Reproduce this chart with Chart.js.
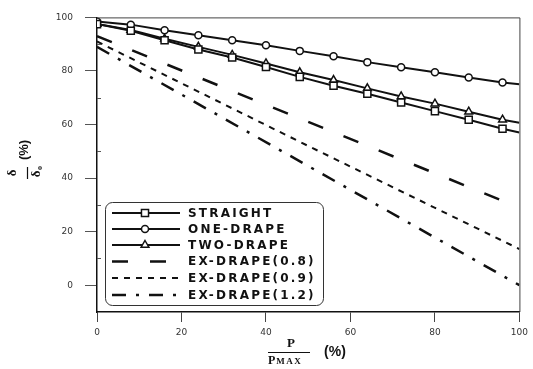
<!DOCTYPE html>
<html>
<head>
<meta charset="utf-8">
<script src="https://cdn.jsdelivr.net/npm/chart.js@4/dist/chart.umd.min.js"></script>
<style>
html,body{margin:0;padding:0;background:#fff;}
#wrap{width:533px;height:369px;}
</style>
</head>
<body>
<div id="wrap"><canvas id="c" width="533" height="369"></canvas></div>
<script>
const xTicks = [0, 20, 40, 60, 80, 100];
const yTicks = [0, 20, 40, 60, 80, 100];
const xSolid = [0, 8, 16, 24, 32, 40, 48, 56, 64, 72, 80, 88, 96, 100];
const straight = [97.5, 95, 91.5, 88, 85, 81.5, 77.8, 74.5, 71.5, 68.2, 65, 61.8, 58.4, 57];
const oneDrape = [98.5, 97.3, 95.2, 93.3, 91.5, 89.6, 87.5, 85.5, 83.3, 81.4, 79.5, 77.6, 75.7, 75];
const twoDrape = [97.5, 95.3, 92, 89, 86, 82.8, 79.5, 76.6, 73.5, 70.5, 67.8, 64.8, 61.8, 60.7];
const xEx = [0, 50, 100];
const ex08 = [93, 61, 29];
const ex09 = [91, 52, 13.5];
const ex12 = [89, 44.5, 0];
const labels = ['STRAIGHT', 'ONE-DRAPE', 'TWO-DRAPE', 'EX-DRAPE(0.8)', 'EX-DRAPE(0.9)', 'EX-DRAPE(1.2)'];

const pts = (xs, ys) => xs.map((x, i) => ({x: x, y: ys[i]}));
const radii = (xs, r) => xs.map((x, i) => i === xs.length - 1 ? 0 : r);

function solid(label, xs, ys, style, r) {
  return {
    label: label, data: pts(xs, ys), borderColor: '#111', borderWidth: 2,
    pointStyle: style, pointRadius: radii(xs, r), pointBorderWidth: 1.5,
    pointBackgroundColor: '#fff', pointBorderColor: '#111', tension: 0, fill: false
  };
}
function dashed(label, xs, ys, dash, w) {
  return {
    label: label, data: pts(xs, ys), borderColor: '#111', borderWidth: w,
    borderDash: dash, pointRadius: 0, tension: 0, fill: false
  };
}

const datasets = [
  solid(labels[0], xSolid, straight, 'rect', 5),
  solid(labels[1], xSolid, oneDrape, 'circle', 3.5),
  solid(labels[2], xSolid, twoDrape, 'triangle', 4.5),
  dashed(labels[3], xEx, ex08, [16, 22], 2.5),
  dashed(labels[4], xEx, ex09, [6, 6], 2),
  dashed(labels[5], xEx, ex12, [14, 10, 3, 10], 2.5)
];

function marker(ctx, style, x, y, r) {
  ctx.save();
  ctx.beginPath();
  if (style === 'rect') {
    const s = Math.SQRT1_2 * r;
    ctx.rect(x - s, y - s, 2 * s, 2 * s);
  } else if (style === 'circle') {
    ctx.arc(x, y, r, 0, Math.PI * 2);
  } else if (style === 'triangle') {
    ctx.moveTo(x, y - r);
    ctx.lineTo(x + r * 0.866, y + r * 0.5);
    ctx.lineTo(x - r * 0.866, y + r * 0.5);
    ctx.closePath();
  }
  ctx.fillStyle = '#fff';
  ctx.fill();
  ctx.lineWidth = 1.5;
  ctx.strokeStyle = '#111';
  ctx.setLineDash([]);
  ctx.stroke();
  ctx.restore();
}

const deco = {
  id: 'deco',
  afterDatasetsDraw(chart) {
    const ctx = chart.ctx;
    const a = chart.chartArea;
    ctx.save();
    ctx.strokeStyle = '#444';
    ctx.lineWidth = 1;
    ctx.beginPath();
    ctx.moveTo(a.left, a.top + 0.5);
    ctx.lineTo(a.right + 0.5, a.top + 0.5);
    ctx.lineTo(a.right + 0.5, a.bottom);
    ctx.stroke();
    const ys = chart.scales.y;
    ctx.strokeStyle = '#555';
    [10, 30, 50, 70, 90].forEach(v => {
      const py = Math.round(ys.getPixelForValue(v)) + 0.5;
      ctx.beginPath();
      ctx.moveTo(a.left, py);
      ctx.lineTo(a.left + 4, py);
      ctx.stroke();
    });

    // legend
    const bx = 105, by = 202, bw = 218, bh = 103;
    ctx.fillStyle = '#fff';
    ctx.strokeStyle = '#333';
    ctx.lineWidth = 1;
    ctx.beginPath();
    ctx.roundRect(bx + 0.5, by + 0.5, bw, bh, 7);
    ctx.fill();
    ctx.stroke();
    const rows = [213, 229, 245, 261.5, 278, 295];
    chart.data.datasets.forEach((ds, i) => {
      const y = rows[i];
      ctx.save();
      ctx.strokeStyle = '#111';
      ctx.lineWidth = ds.borderWidth;
      ctx.setLineDash(ds.borderDash || []);
      ctx.beginPath();
      ctx.moveTo(112, y);
      ctx.lineTo(180, y);
      ctx.stroke();
      ctx.restore();
      if (ds.pointStyle && i < 3) {
        const r = Array.isArray(ds.pointRadius) ? ds.pointRadius[0] : ds.pointRadius;
        marker(ctx, ds.pointStyle, 145, y, r);
      }
      ctx.save();
      ctx.fillStyle = '#111';
      ctx.font = 'bold 12px "DejaVu Sans", sans-serif';
      ctx.letterSpacing = '2.2px';
      ctx.textBaseline = 'middle';
      ctx.textAlign = 'left';
      ctx.fillText(ds.label, 188, y + 0.5);
      ctx.restore();
    });

    // x-axis title
    ctx.fillStyle = '#111';
    ctx.textBaseline = 'middle';
    ctx.textAlign = 'center';
    ctx.font = 'bold 13px "Liberation Serif", serif';
    ctx.fillText('P', 291, 344);
    ctx.strokeStyle = '#111';
    ctx.lineWidth = 1.2;
    ctx.beginPath();
    ctx.moveTo(268, 352.5);
    ctx.lineTo(310, 352.5);
    ctx.stroke();
    ctx.textAlign = 'left';
    ctx.font = 'bold 12px "Liberation Serif", serif';
    ctx.fillText('P', 268, 361);
    const pw = ctx.measureText('P').width;
    ctx.font = 'bold 9px "Liberation Serif", serif';
    ctx.letterSpacing = '1.5px';
    ctx.fillText('MAX', 268 + pw + 1, 361.5);
    ctx.letterSpacing = '0px';
    ctx.font = 'bold 14px "Liberation Sans", Arial, sans-serif';
    ctx.textAlign = 'center';
    ctx.fillText('(%)', 335, 352);

    // y-axis title rotated
    ctx.save();
    ctx.translate(27, 173);
    ctx.rotate(-Math.PI / 2);
    ctx.lineWidth = 1.2;
    ctx.beginPath();
    ctx.moveTo(-6, 0.5);
    ctx.lineTo(6, 0.5);
    ctx.stroke();
    ctx.textAlign = 'center';
    ctx.textBaseline = 'middle';
    ctx.font = 'bold 13px "Liberation Serif", serif';
    ctx.fillText('δ', 0, -14);
    ctx.fillText('δ', -1, 10);
    ctx.font = 'bold 8px "Liberation Serif", serif';
    ctx.fillText('o', 5, 13);
    ctx.font = 'bold 13px "Liberation Sans", Arial, sans-serif';
    ctx.fillText('(%)', 23, -3);
    ctx.restore();

    ctx.restore();
  }
};

new Chart(document.getElementById('c'), {
  type: 'line',
  data: {datasets: datasets},
  options: {
    responsive: false,
    animation: false,
    devicePixelRatio: 1,
    layout: {padding: {top: 11, right: 6, left: 0, bottom: 0}},
    plugins: {legend: {display: false}, tooltip: {enabled: false}},
    scales: {
      x: {
        type: 'linear', min: 0, max: 100,
        afterBuildTicks: s => { s.ticks = xTicks.map(v => ({value: v})); },
        afterFit: s => { s.height = 57; },
        grid: {drawOnChartArea: false, drawTicks: true, tickLength: 10, color: '#444', lineWidth: 1},
        border: {display: true, color: '#111', width: 1.5},
        ticks: {font: {family: 'DejaVu Sans', size: 9}, color: '#333', padding: 5, maxRotation: 0,
                callback: v => String(v)}
      },
      y: {
        type: 'linear', min: -10, max: 100,
        afterBuildTicks: s => { s.ticks = yTicks.map(v => ({value: v})); },
        afterFit: s => { s.width = 97; },
        grid: {drawOnChartArea: false, drawTicks: true, tickLength: 12, color: '#555', lineWidth: 1},
        border: {display: true, color: '#111', width: 1.5},
        ticks: {font: {family: 'DejaVu Sans', size: 9}, color: '#333', padding: 12,
                callback: v => String(v)}
      }
    }
  },
  plugins: [deco]
});
</script>
</body>
</html>
